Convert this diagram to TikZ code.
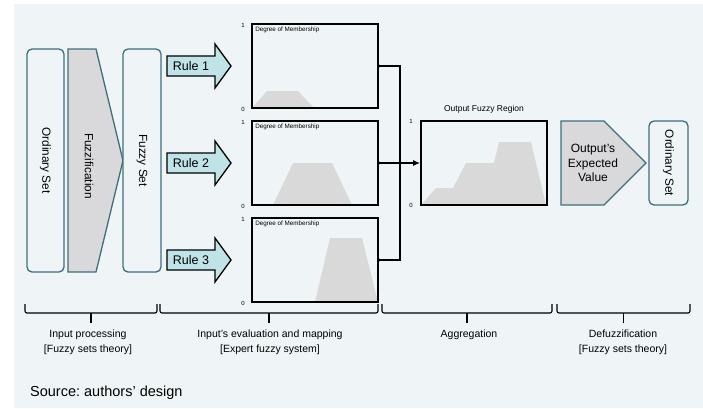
\documentclass[tikz,border=0pt]{standalone}
\usepackage{fontspec}
\setmainfont{Liberation Sans}
\usetikzlibrary{arrows.meta}
\definecolor{bgc}{HTML}{EFF5F6}
\definecolor{tealstroke}{HTML}{3F6E7C}
\definecolor{grayfill}{HTML}{D9D9DB}
\definecolor{rulefill}{HTML}{BFE3E6}
\definecolor{plotfill}{HTML}{D9D9D9}
\frenchspacing
\begin{document}
\begin{tikzpicture}[x=1pt,y=-1pt,
  setbox/.style={draw=tealstroke, line width=1.3pt, rounded corners=5pt, fill=bgc, rotate=-90, inner sep=0pt, font=\fontsize{11.8}{14}\selectfont},
  procshape/.style={draw=tealstroke, line width=1.3pt, fill=grayfill},
  rulearrow/.style={draw=black, line width=1.3pt, fill=rulefill},
  rulelabel/.style={font=\fontsize{12.5}{14}\selectfont, inner sep=0pt},
  graphbox/.style={draw=black, line width=1.8pt, minimum width=126pt, minimum height=84pt, inner sep=0pt},
  plotarea/.style={fill=plotfill},
  axislabel/.style={font=\fontsize{6}{7}\selectfont, inner sep=0pt},
  graphtitle/.style={font=\fontsize{6.3}{7}\selectfont, inner sep=0pt, anchor=north west},
  conn/.style={draw=black, line width=1.3pt},
  dotmark/.style={fill=black},
  bracepath/.style={draw=black, line width=1.1pt, rounded corners=2pt},
  bracelabel/.style={font=\fontsize{10.5}{15}\selectfont, align=center, inner sep=0pt, anchor=north}
]
\useasboundingbox (0,0) rectangle (703,408);
\fill[bgc] (14,4) rectangle (703,408);

% input processing
\node[setbox, minimum width=223pt, minimum height=37pt] (os1) at (45.5,160.5) {Ordinary Set};
\draw[procshape] (68,49) -- (96,49) -- (123,160.5) -- (96,272) -- (68,272) -- cycle;
\node[rotate=-90, font=\fontsize{11.8}{14}\selectfont, inner sep=0pt] (fuzz) at (89,166) {Fuzzification};
\node[setbox, minimum width=223pt, minimum height=38pt] (fs) at (142,160.5) {Fuzzy Set};

% rules
\foreach \c/\n in {66/1,163/2,260/3}{
  \draw[rulearrow] (167,\c-10) -- (215,\c-10) -- (215,\c-22) -- (231,\c) -- (215,\c+22) -- (215,\c+10) -- (167,\c+10) -- cycle;
  \node[rulelabel] (rule\n) at (191,\c) {Rule \n};
}

% membership graphs
\fill[plotarea] (252,108) -- (267,91) -- (298,91) -- (314,108) -- cycle;
\fill[plotarea] (273,205) -- (293,163) -- (332,163) -- (352,205) -- cycle;
\fill[plotarea] (315,302) -- (330,238) -- (362,238) -- (378,302) -- cycle;
\node[graphbox] (g1) at (315,66) {};
\node[graphbox] (g2) at (315,163) {};
\node[graphbox] (g3) at (315,260) {};
\foreach \g in {g1,g2,g3}{
  \node[graphtitle] (\g t) at ([xshift=4pt,yshift=-4pt]\g.north west) {Degree of Membership};
  \node[axislabel] (\g one) at ([xshift=-8pt,yshift=-2pt]\g.north west) {1};
  \node[axislabel] (\g zero) at ([xshift=-8pt,yshift=-1pt]\g.south west) {0};
}

% aggregation
\fill[plotarea] (421,205) -- (436,188) -- (453,188) -- (466,163) -- (494,163) -- (499,142) -- (531,142) -- (546,205) -- cycle;
\node[graphbox] (out) at (484,163) {};
\node[font=\fontsize{8.5}{10}\selectfont, inner sep=0pt] (outt) at (484,109) {Output Fuzzy Region};
\node[axislabel] (outone) at ([xshift=-9pt,yshift=-1pt]out.north west) {1};
\node[axislabel] (outzero) at ([xshift=-9pt]out.south west) {0};

\coordinate (j1) at (400,66);
\coordinate (j3) at (400,260);
\draw[conn] (g1.east) -- (j1) -- (j3) -- (g3.east);
\draw[conn, -{Latex[length=7pt,width=6pt]}] (g2.east) -- (out.west);
\foreach \g in {g1,g2,g3}{ \fill[dotmark] (\g.east) circle (1.8pt); }

% defuzzification
\draw[procshape] (561,121) -- (604,121) -- (646,163) -- (604,205) -- (561,205) -- cycle;
\node[font=\fontsize{12}{14.5}\selectfont, align=center, inner sep=0pt] (oev) at (593,163) {Output’s\\Expected\\Value};
\node[setbox, minimum width=84pt, minimum height=39pt] (os2) at (668.5,163) {Ordinary Set};

% braces
\draw[bracepath] (25,304) |- (157,313) -- (157,304);
\draw[bracepath] (160,304) |- (378,313) -- (378,304);
\draw[bracepath] (382,304) |- (552,313) -- (552,304);
\draw[bracepath] (557,304) |- (690,313) -- (690,304);
\draw[conn, line width=1.1pt] (91,313) -- (91,323);
\draw[conn, line width=1.1pt] (269,313) -- (269,323);
\draw[conn, line width=1.1pt] (467,313) -- (467,323);
\draw[conn, line width=1.1pt] (623.5,313) -- (623.5,323);
\node[bracelabel] (b1) at (88,330) {Input processing\\{}[Fuzzy sets theory]};
\node[bracelabel] (b2) at (270,330) {Input’s evaluation and mapping\\{}[Expert fuzzy system]};
\node[bracelabel] (b3) at (469,330) {Aggregation};
\node[bracelabel] (b4) at (623,330) {Defuzzification\\{}[Fuzzy sets theory]};

\node[font=\fontsize{14.5}{16}\selectfont, anchor=west, inner sep=0pt] (src) at (30,393) {Source: authors’ design};
\end{tikzpicture}
\end{document}
